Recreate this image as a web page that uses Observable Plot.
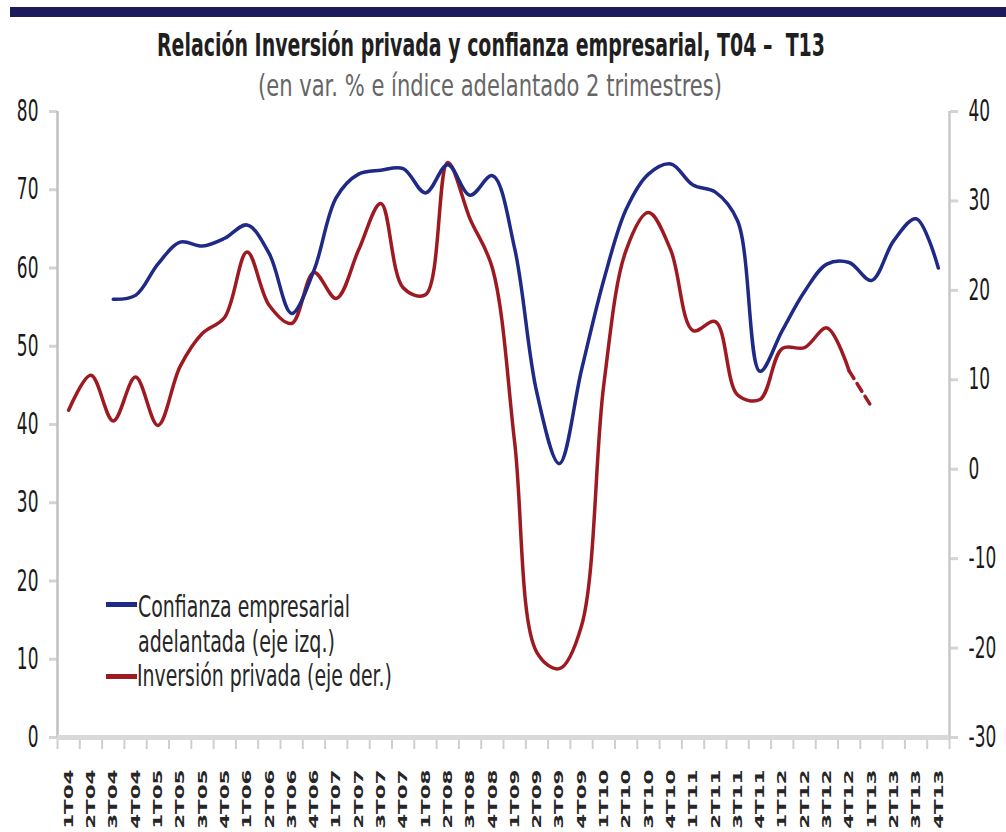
<!DOCTYPE html>
<html><head><meta charset="utf-8">
<script src="https://cdn.jsdelivr.net/npm/d3@7"></script>
<script src="https://cdn.jsdelivr.net/npm/@observablehq/plot@0.6"></script>
<style>
html,body{margin:0;padding:0;background:#fff;overflow:hidden;width:1006px;height:832px;position:relative;}
#bar{position:absolute;left:10px;top:7px;width:996px;height:10px;background:#1b1b5b;}
#chart{position:absolute;left:0;top:90px;}
.lg{position:absolute;height:5px;width:31px;left:106px;}
</style></head><body>
<div id="bar"></div>
<div id="chart"></div>
<script>
// ---- data ----
const quarters = ["1T04","2T04","3T04","4T04","1T05","2T05","3T05","4T05","1T06","2T06","3T06","4T06",
  "1T07","2T07","3T07","4T07","1T08","2T08","3T08","4T08","1T09","2T09","3T09","4T09",
  "1T10","2T10","3T10","4T10","1T11","2T11","3T11","4T11","1T12","2T12","3T12","4T12",
  "1T13","2T13","3T13","4T13"];
// Confianza empresarial adelantada (eje izq.)
const confianza = [null,null,56,56.5,60.5,63.3,62.8,63.8,65.5,61.8,54.2,59.7,69,72,72.5,72.7,69.6,73.2,69.3,71.8,
  62.5,44,35,47,58.5,67.5,72,73.3,70.6,69.7,66,46.8,52,57,60.5,60.7,58.4,63.5,66.3,60];
// Inversión privada (eje der.), var. %
const inversion = [6.6,10.5,5.4,10.3,4.9,11.5,15.2,17,24.3,18.3,16.3,22,19.1,24.5,29.7,20.3,19.5,34.3,28,22.5,
  3,-20.5,-22.3,-17.5,9.5,24.5,28.7,24.5,15.5,16.5,8.3,7.8,13.5,13.6,15.8,11,7,null,null,null];
const lastSolid = 35; // último trimestre observado; el siguiente es proyección (línea discontinua)
const leftTicks = [0,10,20,30,40,50,60,70,80];
const rightTicks = [-30,-20,-10,0,10,20,30,40];
const titleText = "Relación Inversión privada y confianza empresarial, T04 –  T13";
const subtitleText = "(en var. % e índice adelantado 2 trimestres)";
const legendItems = ["Confianza empresarial", "adelantada (eje izq.)", "Inversión privada (eje der.)"];

// ---- helpers ----
const BLUE = "#1f2a86", RED = "#9e1a22";
const L0 = 0, L1 = 80, R0 = -30, R1 = 40;
const toL = r => (r - R0) * (L1 - L0) / (R1 - R0) + L0;
const fromL = l => (l - L0) * (R1 - R0) / (L1 - L0) + R0;

const rows = quarters.map((q, i) => ({i, q, conf: confianza[i], inv: inversion[i]}));
const confRows = rows.filter(d => d.conf != null);
const invSolid = rows.filter(d => d.inv != null && d.i <= lastSolid);
const invDash = rows.filter(d => d.inv != null && d.i >= lastSolid);

const chart = Plot.plot({
  width: 1006, height: 742,
  marginLeft: 57, marginRight: 57, marginTop: 21, marginBottom: 95,
  style: {fontFamily: "DejaVu Sans", background: "transparent", overflow: "visible"},
  x: {domain: [0, quarters.length], axis: null},
  y: {domain: [L0, L1], axis: null},
  marks: [
    Plot.axisX({ticks: d3.range(0, quarters.length + 1), tickSize: 12, tickFormat: () => "", stroke: "#cfcfcf", strokeWidth: 2, label: null}),
    Plot.axisY({anchor: "left", ticks: leftTicks, tickSize: 8, tickPadding: 11, fontSize: 17, stroke: "#d4d4d4", strokeWidth: 3, fill: "#1a1a1a", label: null, tickFormat: d => String(d)}),
    Plot.axisY({anchor: "right", ticks: rightTicks.map(toL), tickSize: 8, tickPadding: 11, fontSize: 17, stroke: "#d4d4d4", strokeWidth: 3, fill: "#1a1a1a", label: null, tickFormat: d => String(Math.round(fromL(d)))}),
    Plot.ruleX([0], {stroke: "#c0c0c0", strokeWidth: 2.5}),
    Plot.ruleX([quarters.length], {stroke: "#c8c8c8", strokeWidth: 2.5}),
    Plot.ruleY([L0], {stroke: "#d9d9d9", strokeWidth: 5}),
    Plot.text(rows, {x: d => d.i + 0.5, y: () => L0, text: "q", rotate: -90, textAnchor: "end", lineAnchor: "middle", dy: 32, fontSize: 13, fontWeight: "bold", fill: "#262626"}),
    Plot.line(invSolid, {x: d => d.i + 0.5, y: d => toL(d.inv), stroke: RED, strokeWidth: 3.5, curve: "catmull-rom"}),
    Plot.line(invDash, {x: d => d.i + 0.5, y: d => toL(d.inv), stroke: RED, strokeWidth: 3.5, strokeDasharray: "9,6"}),
    Plot.line(confRows, {x: d => d.i + 0.5, y: "conf", stroke: BLUE, strokeWidth: 3.5, curve: "catmull-rom"})
  ]
});
document.getElementById("chart").appendChild(chart);

// stretch texts like the original (tall, narrow glyphs)
function isNum(v) { return v != null && /^-?[\d.]+$/.test(v.trim()); }
function stretch(texts, sc) {
  texts.forEach(t => {
    let tr = t.getAttribute("transform");
    if (!tr) {
      const x = t.getAttribute("x"), y = t.getAttribute("y");
      const tx = isNum(x) ? +x : 0, ty = isNum(y) ? +y : 0;
      if (isNum(x)) t.setAttribute("x", 0);
      if (isNum(y)) t.setAttribute("y", 0);
      tr = `translate(${tx},${ty})`;
    }
    t.setAttribute("transform", tr + ` scale(${sc})`);
  });
}
const allTexts = Array.from(chart.querySelectorAll("text"));
const qset = new Set(quarters);
stretch(allTexts.filter(t => qset.has(t.textContent.trim())), "1.65,1");
stretch(allTexts.filter(t => /^-?\d+$/.test(t.textContent.trim())), "1,1.75");

// HTML texts fitted to a width and cap height
function place(text, x0, x1, base, cap, size, weight, color) {
  const el = document.createElement("div");
  el.textContent = text;
  Object.assign(el.style, {position: "absolute", left: x0 + "px", top: "0px", fontFamily: '"DejaVu Sans"',
    fontSize: size + "px", fontWeight: weight, lineHeight: size + "px", whiteSpace: "pre", color, transformOrigin: "0 0"});
  document.body.appendChild(el);
  const w = el.getBoundingClientRect().width;
  const sx = (x1 - x0) / w, sy = cap / (0.73 * size);
  el.style.top = (base - 0.846 * size * sy) + "px";
  el.style.transform = `scale(${sx},${sy})`;
}
place(titleText, 157, 825, 57, 23, 16, "bold", "#1f1f1f");
place(subtitleText, 258, 722, 97, 22, 16, "normal", "#666666");
place(legendItems[0], 138, 350, 618, 22, 16, "normal", "#262626");
place(legendItems[1], 138, 335, 653, 22, 16, "normal", "#262626");
place(legendItems[2], 137, 392, 687, 22, 16, "normal", "#262626");
const lb = document.createElement("div"); lb.className = "lg"; lb.style.top = "602px"; lb.style.background = BLUE; document.body.appendChild(lb);
const lr = document.createElement("div"); lr.className = "lg"; lr.style.top = "674px"; lr.style.background = RED; document.body.appendChild(lr);
</script>
</body></html>
